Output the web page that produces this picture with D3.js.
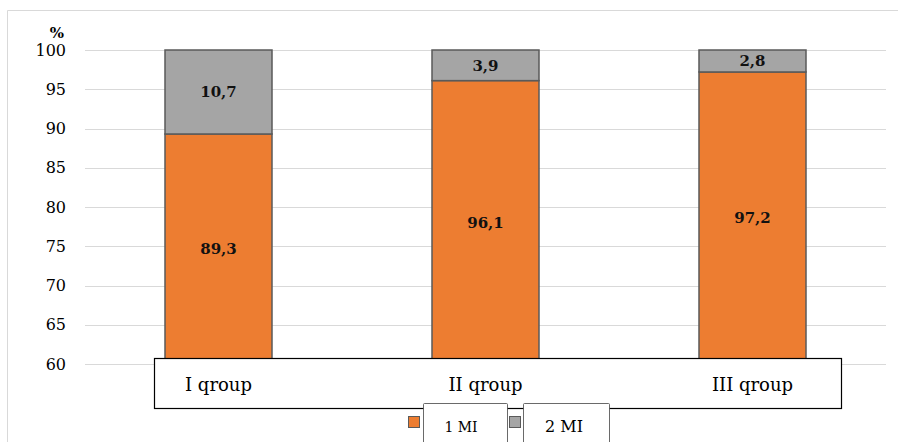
<!DOCTYPE html>
<html><head><meta charset="utf-8">
<script src="https://cdn.jsdelivr.net/npm/d3@7/dist/d3.min.js"></script>
<style>body{margin:0;background:#fff}svg{display:block}
text{font-family:"DejaVu Serif","Liberation Serif",serif}</style>
</head><body>
<svg id="c" width="898" height="442"></svg>
<script>
const categories = ["I qroup", "II qroup", "III qroup"];
const series1 = [89.3, 96.1, 97.2];
const series2 = [10.7, 3.9, 2.8];
const seriesNames = ["1 MI", "2 MI"];
const ticks = [60, 65, 70, 75, 80, 85, 90, 95, 100];

const svg = d3.select("#c");
svg.append("path").attr("d","M7.5,442 V10.5 H898").attr("fill","none").attr("stroke","#d9d9d9").attr("stroke-width",1);

const x = d3.scaleBand().domain(categories).range([85, 886]).paddingInner(0.6).paddingOuter(0.3);
const y = d3.scaleLinear().domain([60, 100]).range([364, 50]);

svg.append("g").selectAll("line").data(ticks).join("line")
  .attr("x1",85).attr("x2",886).attr("y1",d=>Math.round(y(d))+0.5).attr("y2",d=>Math.round(y(d))+0.5)
  .attr("stroke","#d9d9d9").attr("stroke-width",1);

const yAxis = d3.axisLeft(y).tickValues(ticks).tickSize(0).tickPadding(0);
const ga = svg.append("g").attr("transform","translate(66,0)").call(yAxis);
ga.select(".domain").remove();
ga.attr("font-family",null).attr("font-size",null);
ga.selectAll("text").style("font-size","16px").attr("fill","#000");
svg.append("text").attr("x",57).attr("y",38).attr("text-anchor","middle")
  .style("font-weight","bold").style("font-size","15px").text("%");

const data = categories.map((c,i)=>({c, a:series1[i], b:series2[i]}));
const bw = 107;
const bx = d => x(d.c) + x.bandwidth()/2 - bw/2;
const g = svg.append("g");
g.selectAll("rect.s1").data(data).join("rect").attr("class","s1")
  .attr("x",bx).attr("width",bw).attr("y",d=>y(d.a)).attr("height",d=>y(60)-y(d.a))
  .attr("fill","#ED7D31").attr("stroke","#5a5a5a").attr("stroke-width",1.5);
g.selectAll("rect.s2").data(data).join("rect").attr("class","s2")
  .attr("x",bx).attr("width",bw).attr("y",d=>y(d.a+d.b)).attr("height",d=>y(d.a)-y(d.a+d.b))
  .attr("fill","#A5A5A5").attr("stroke","#5a5a5a").attr("stroke-width",1.5);

const fmt = v => String(v).replace(".", ",");
g.selectAll("text.l1").data(data).join("text")
  .attr("x",d=>bx(d)+bw/2).attr("y",d=>(y(d.a)+y(60))/2).attr("dy","0.36em")
  .attr("text-anchor","middle").style("font-weight","bold").style("font-size","15px")
  .attr("fill","#111").text(d=>fmt(d.a));
g.selectAll("text.l2").data(data).join("text")
  .attr("x",d=>bx(d)+bw/2).attr("y",d=>(y(d.a)+y(d.a+d.b))/2).attr("dy","0.36em")
  .attr("text-anchor","middle").style("font-weight","bold").style("font-size","15px")
  .attr("fill","#111").text(d=>fmt(d.b));

svg.append("rect").attr("x",154.5).attr("y",358.5).attr("width",687).attr("height",50)
  .attr("fill","#fff").attr("stroke","#000").attr("stroke-width",1.2);
svg.append("g").selectAll("text").data(categories).join("text")
  .attr("x",d=>x(d)+x.bandwidth()/2).attr("y",391).attr("text-anchor","middle")
  .style("font-size","18px").attr("fill","#000").text(d=>d);

const legend = [
  {name:seriesNames[0], color:"#ED7D31", sx:408, bx:423, bw:84, fs:14, tx:461},
  {name:seriesNames[1], color:"#A5A5A5", sx:509, bx:523, bw:86, fs:16, tx:564}
];
const lg = svg.append("g");
lg.selectAll("rect.sw").data(legend).join("rect").attr("class","sw")
  .attr("x",d=>d.sx+0.5).attr("y",416.5).attr("width",11).attr("height",11)
  .attr("fill",d=>d.color).attr("stroke","#5a5a5a").attr("stroke-width",1);
lg.selectAll("rect.bx").data(legend).join("rect").attr("class","bx")
  .attr("x",d=>d.bx+0.5).attr("y",403.5).attr("width",d=>d.bw).attr("height",60).attr("rx",1)
  .attr("fill","#fff").attr("stroke","#444").attr("stroke-width",0.8);
lg.selectAll("text").data(legend).join("text")
  .attr("x",d=>d.tx).attr("y",432).attr("text-anchor","middle")
  .style("font-size",d=>d.fs+"px").attr("fill","#000").text(d=>d.name);
</script>
</body></html>
